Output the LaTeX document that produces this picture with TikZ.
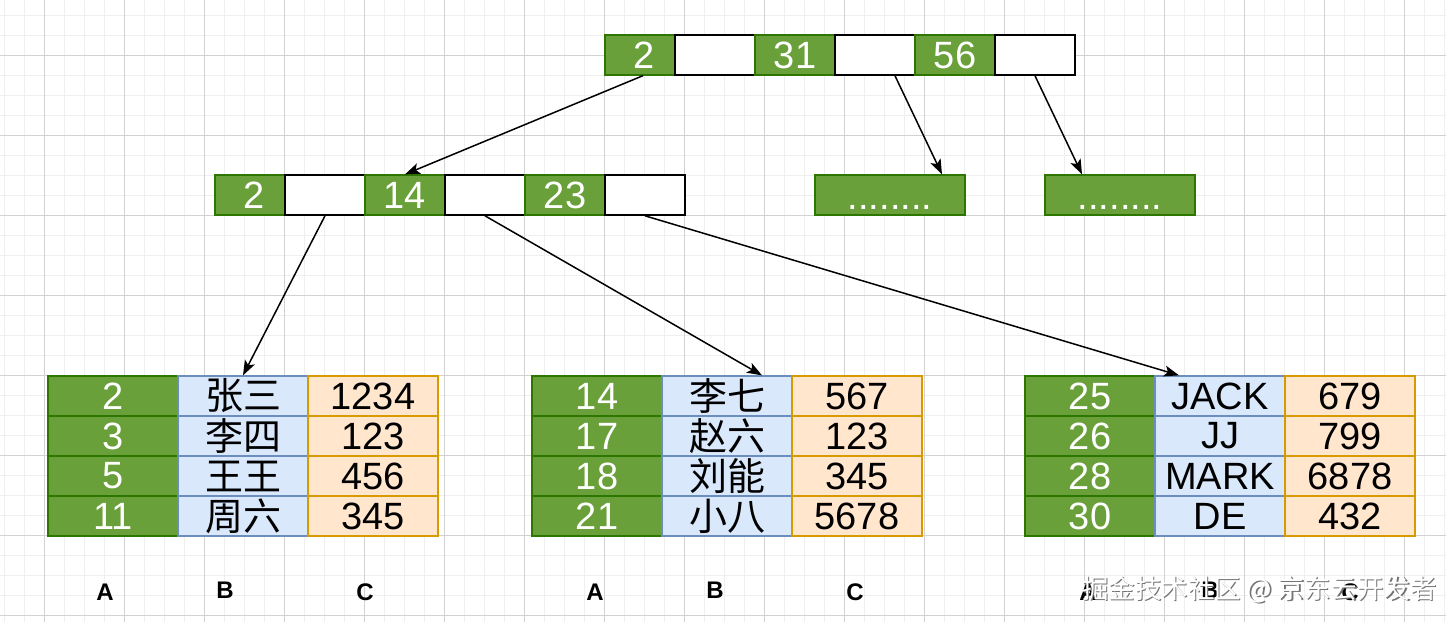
\documentclass[tikz,border=0pt]{standalone}
\usepackage{fontspec}
\setmainfont{Liberation Sans}
\newfontfamily\cjk{Noto Sans CJK SC}
\usetikzlibrary{arrows.meta}
\definecolor{gfill}{HTML}{6AA03A}
\definecolor{gstroke}{HTML}{2D7600}
\definecolor{bfill}{HTML}{DAE8FC}
\definecolor{bstroke}{HTML}{6C8EBF}
\definecolor{ofill}{HTML}{FFE6CC}
\definecolor{ostroke}{HTML}{D79B00}
\definecolor{minorgrid}{HTML}{EFEFEF}
\definecolor{majorgrid}{HTML}{D2D2D2}
\begin{document}
\begin{tikzpicture}[x=1pt,y=-1pt,
  cellbase/.style={rectangle, inner sep=0pt, minimum height=40pt, line width=1.3pt, font=\fontsize{38}{40}\selectfont},
  gcell/.style={cellbase, fill=gfill, draw=gstroke, text=white},
  wcell/.style={cellbase, fill=white, draw=black, line width=1.6pt, minimum width=80pt},
  gtab/.style={gcell, minimum width=130pt},
  btab/.style={cellbase, fill=bfill, draw=bstroke, minimum width=130pt},
  btabcn/.style={btab, font=\cjk\fontsize{38}{40}\selectfont},
  otab/.style={cellbase, fill=ofill, draw=ostroke, minimum width=130pt},
  dotbox/.style={gcell, minimum width=150pt},
  link/.style={-{Stealth[length=15pt,width=11pt,inset=3.5pt]}, line width=1.5pt},
  lbl/.style={inner sep=0pt, font=\bfseries\fontsize{24}{26}\selectfont},
  minorline/.style={draw=minorgrid, line width=0.9pt},
  majorline/.style={draw=majorgrid, line width=0.9pt}
]
\useasboundingbox (0,0) rectangle (1446,622);
\fill[white] (0,0) rectangle (1446,622);
% grid
\foreach \x in {4,24,...,1444} \draw[minorline] (\x,0) -- (\x,622);
\foreach \y in {15,35,...,615} \draw[minorline] (0,\y) -- (1446,\y);
\foreach \x in {44,124,...,1404} \draw[majorline] (\x,0) -- (\x,622);
\foreach \y in {55,135,...,615} \draw[majorline] (0,\y) -- (1446,\y);

% top row
\node[gcell, minimum width=70pt] (t1) at (640,55) {\hspace*{8pt}2};
\node[wcell] (t1p) at (715,55) {};
\node[gcell, minimum width=80pt] (t2) at (795,55) {31};
\node[wcell] (t2p) at (875,55) {};
\node[gcell, minimum width=80pt] (t3) at (955,55) {56};
\node[wcell] (t3p) at (1035,55) {};

% middle row
\node[gcell, minimum width=70pt] (m1) at (250,195) {\hspace*{8pt}2};
\node[wcell] (m1p) at (325,195) {};
\node[gcell, minimum width=80pt] (m2) at (405,195) {14};
\node[wcell] (m2p) at (485,195) {};
\node[gcell, minimum width=80pt] (m3) at (565,195) {23};
\node[wcell] (m3p) at (645,195) {};

% placeholder boxes
\node[dotbox] (d1) at (890,195) {};
\node[dotbox] (d2) at (1120,195) {};
\node[anchor=base, inner sep=0pt, text=white, font=\fontsize{38}{40}\selectfont] (d1t) at (890,209) {........};
\node[anchor=base, inner sep=0pt, text=white, font=\fontsize{38}{40}\selectfont] (d2t) at (1120,209) {........};

% table 1
\node[gtab] (pa1) at (113,396) {2};
\node[gtab] (pa2) at (113,436) {3};
\node[gtab] (pa3) at (113,476) {5};
\node[gtab] (pa4) at (113,516) {11};
\node[btabcn] (pb1) at (243,396) {张三};
\node[btabcn] (pb2) at (243,436) {李四};
\node[btabcn] (pb3) at (243,476) {王王};
\node[btabcn] (pb4) at (243,516) {周六};
\node[otab] (pc1) at (373,396) {1234};
\node[otab] (pc2) at (373,436) {123};
\node[otab] (pc3) at (373,476) {456};
\node[otab] (pc4) at (373,516) {345};

% table 2
\node[gtab] (qa1) at (597,396) {14};
\node[gtab] (qa2) at (597,436) {17};
\node[gtab] (qa3) at (597,476) {18};
\node[gtab] (qa4) at (597,516) {21};
\node[btabcn] (qb1) at (727,396) {李七};
\node[btabcn] (qb2) at (727,436) {赵六};
\node[btabcn] (qb3) at (727,476) {刘能};
\node[btabcn] (qb4) at (727,516) {小八};
\node[otab] (qc1) at (857,396) {567};
\node[otab] (qc2) at (857,436) {123};
\node[otab] (qc3) at (857,476) {345};
\node[otab] (qc4) at (857,516) {5678};

% table 3
\node[gtab] (ra1) at (1090,396) {25};
\node[gtab] (ra2) at (1090,436) {26};
\node[gtab] (ra3) at (1090,476) {28};
\node[gtab] (ra4) at (1090,516) {30};
\node[btab] (rb1) at (1220,396) {JACK};
\node[btab] (rb2) at (1220,436) {JJ};
\node[btab] (rb3) at (1220,476) {MARK};
\node[btab] (rb4) at (1220,516) {DE};
\node[otab] (rc1) at (1350,396) {679};
\node[otab] (rc2) at (1350,436) {799};
\node[otab] (rc3) at (1350,476) {6878};
\node[otab] (rc4) at (1350,516) {432};

% column labels
\node[lbl] (la1) at (105,592) {A};
\node[lbl] (lb1) at (225,590) {B};
\node[lbl] (lc1) at (365,592) {C};
\node[lbl] (la2) at (595,592) {A};
\node[lbl] (lb2) at (715,590) {B};
\node[lbl] (lc2) at (855,592) {C};
\node[lbl] (la3) at (1088,592) {A};
\node[lbl] (lb3) at (1210,590) {B};
\node[lbl] (lc3) at (1350,592) {C};

% connectors
\draw[link] ([xshift=3pt]t1.south) -- (m2.north);
\draw[link] ([xshift=20pt]t2p.south) -- ([xshift=52pt]d1.north);
\draw[link] (t3p.south) -- ([xshift=-38pt]d2.north);
\draw[link] (m1p.south) -- (pb1.north);
\draw[link] (m2p.south) -- ([xshift=35pt]qb1.north);
\draw[link] (m3p.south) -- ([xshift=-41pt]rb1.north);

% watermark
\node[inner sep=0pt, text=black!55, font=\cjk\fontsize{26.5}{28}\selectfont] (wms) at (1260.8,590.8) {掘金技术社区 @ 京东云开发者};
\node[inner sep=0pt, text=white, font=\cjk\fontsize{26.5}{28}\selectfont] (wm) at (1259.5,589.5) {掘金技术社区 @ 京东云开发者};
\end{tikzpicture}
\end{document}
